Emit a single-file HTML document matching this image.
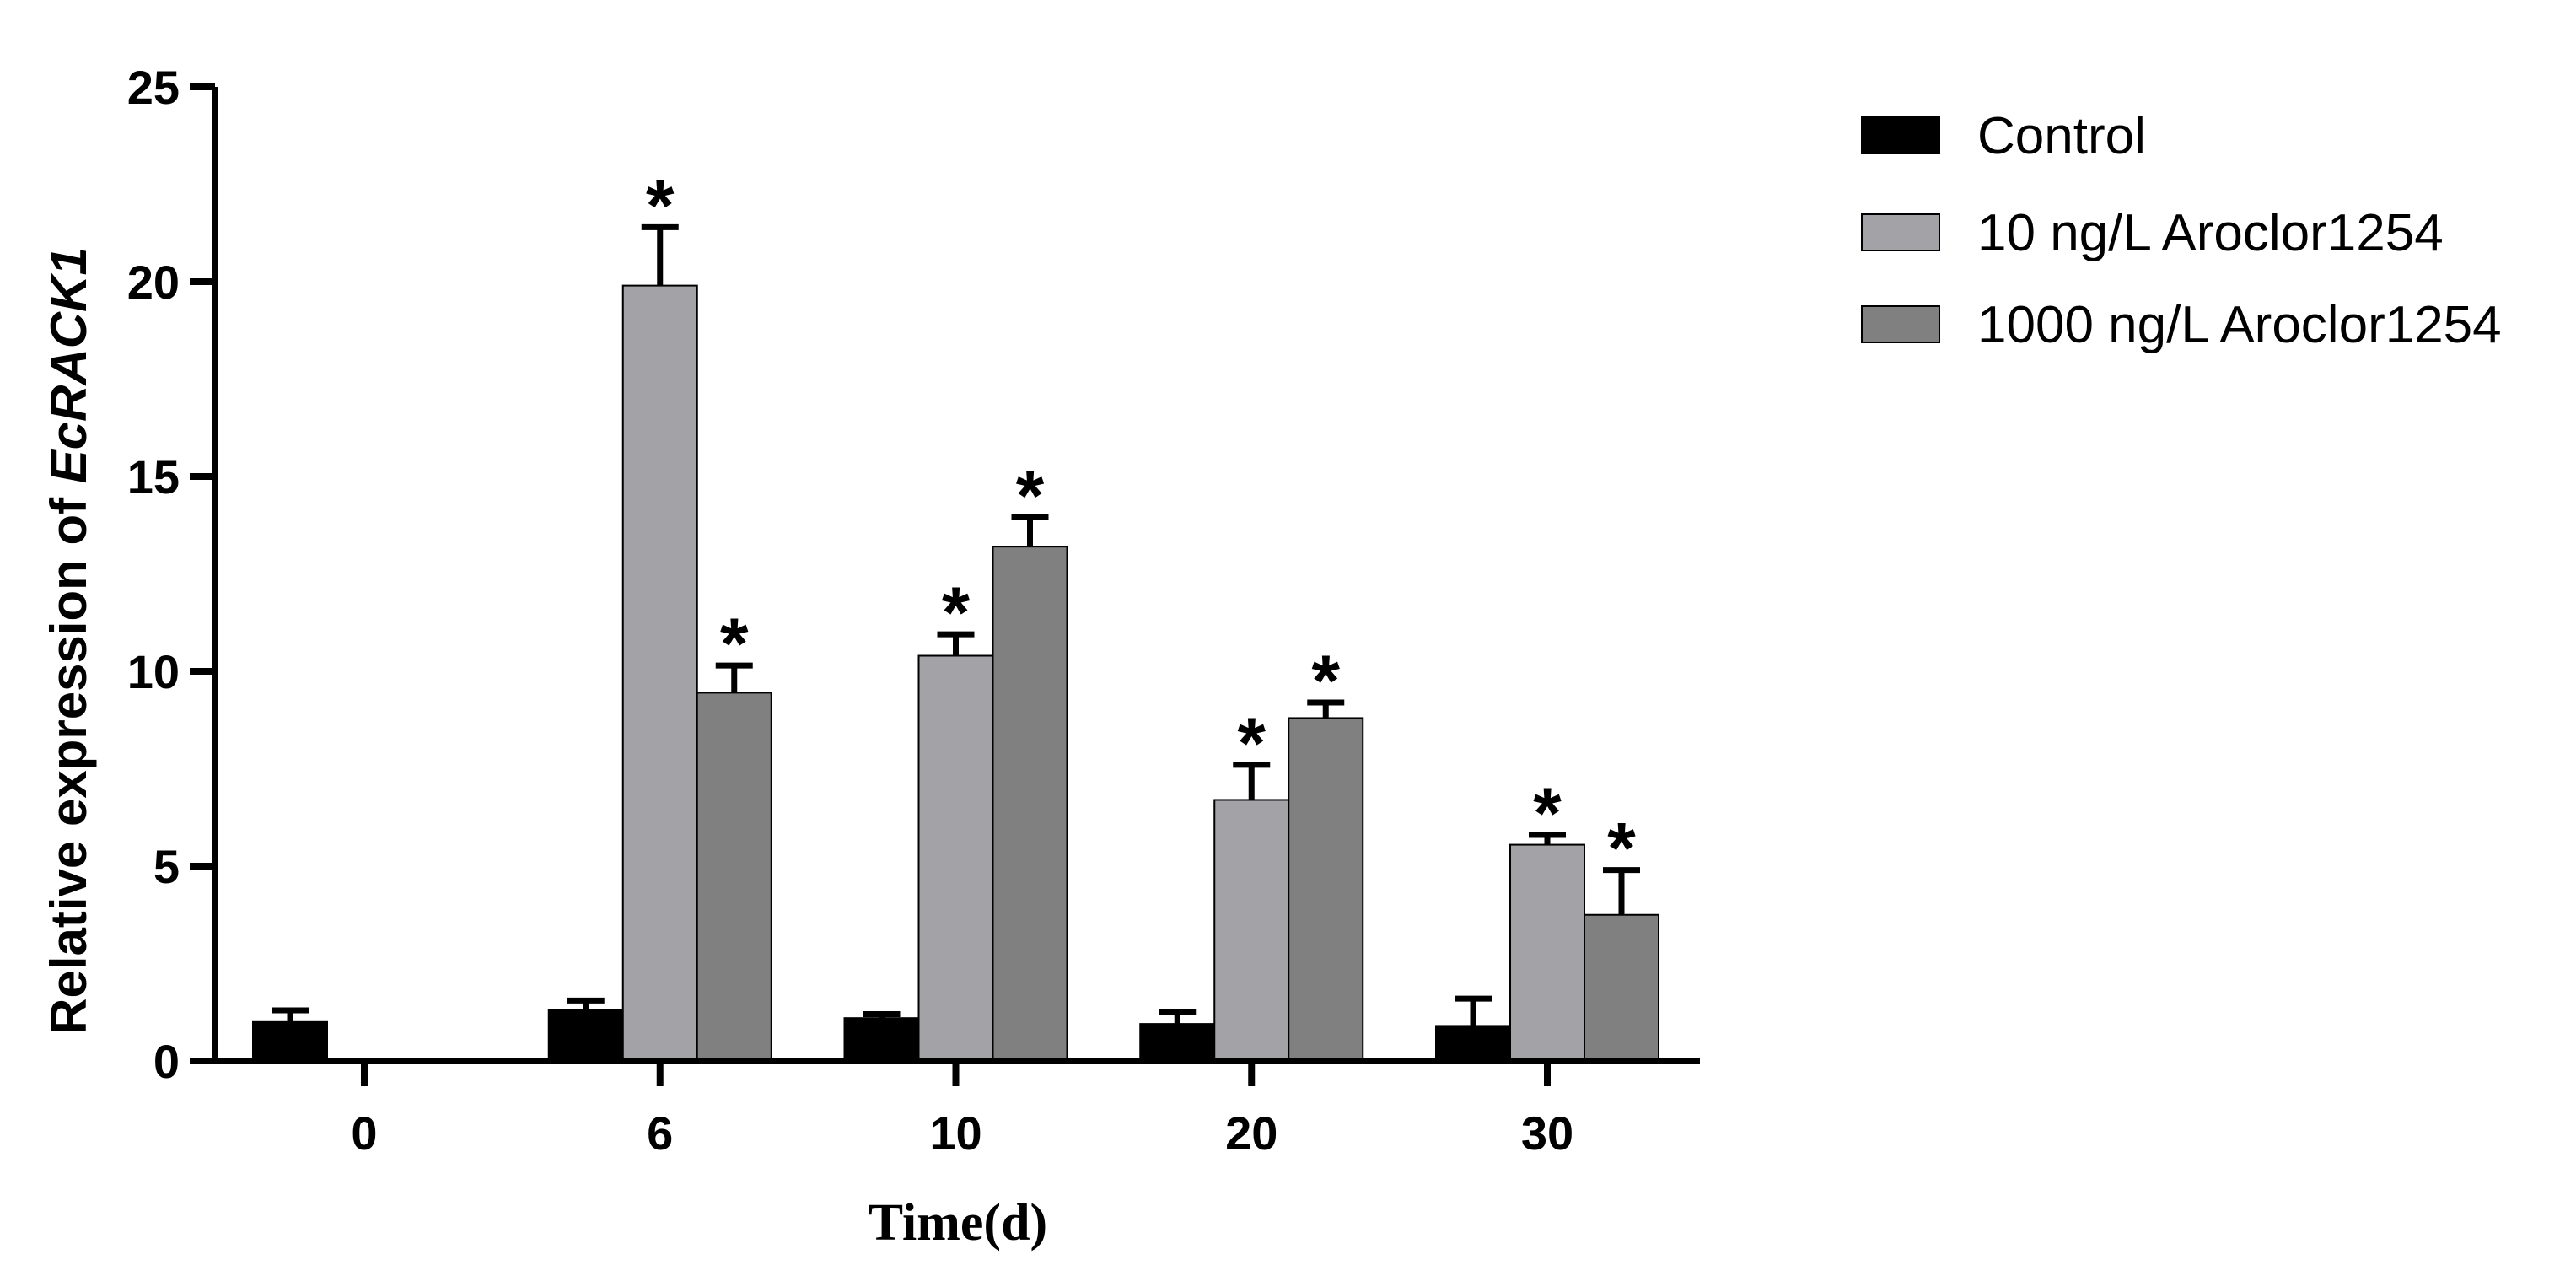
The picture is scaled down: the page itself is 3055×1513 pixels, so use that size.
<!DOCTYPE html>
<html><head><meta charset="utf-8"><style>
html,body{margin:0;padding:0;background:#fff;}
svg{display:block;}
</style></head><body>
<svg id="chart" width="3055" height="1513" xmlns="http://www.w3.org/2000/svg">
<g id="plot"></g>
<text transform="translate(102,760) rotate(-90)" text-anchor="middle" font-family="Liberation Sans, sans-serif" font-weight="bold" font-size="60">Relative expression of <tspan font-style="italic">EcRACK1</tspan></text>
<text x="1136" y="1470" text-anchor="middle" font-family="Liberation Serif, serif" font-weight="bold" font-size="62">Time(d)</text>
<g font-family="Liberation Sans, sans-serif" font-size="62">
<rect x="2208" y="139" width="92" height="43" fill="#000" stroke="#000" stroke-width="2"/>
<text x="2345" y="182">Control</text>
<rect x="2208" y="254" width="92" height="43" fill="#a3a2a7" stroke="#000" stroke-width="2"/>
<text x="2345" y="297">10 ng/L Aroclor1254</text>
<rect x="2208" y="363" width="92" height="43" fill="#808080" stroke="#000" stroke-width="2"/>
<text x="2345" y="406">1000 ng/L Aroclor1254</text>
</g>
</svg>
<script>
const categories = ["0","6","10","20","30"];
const controlVals = [1.0,1.3,1.1,0.95,0.9];
const controlErr = [0.3,0.25,0.1,0.3,0.7];
const low10Vals = [0,19.9,10.4,6.7,5.55];
const low10Err = [0,1.5,0.55,0.9,0.25];
const high1000Vals = [0,9.45,13.2,8.8,3.75];
const high1000Err = [0,0.7,0.75,0.4,1.15];
const starLow = [false,true,true,true,true];
const starHigh = [false,true,true,true,true];
const yTicks = [0,5,10,15,20,25];

const NS="http://www.w3.org/2000/svg";
const g=document.getElementById('plot');
const X0=255, Y0=1258, YTOP=103, XEND=2016, BW=88;
const groupCenters=[432,787,1136,1484,1835];
function y(v){return Y0-(v/25)*(Y0-YTOP);}
function xc(i){return groupCenters[0]+i*((groupCenters[4]-groupCenters[0])/4);}
function mk(tag,attrs){const e=document.createElementNS(NS,tag);for(const k in attrs)e.setAttribute(k,attrs[k]);g.appendChild(e);return e;}

const series=[[controlVals,controlErr,"#000",null],[low10Vals,low10Err,"#a3a2a7",starLow],[high1000Vals,high1000Err,"#808080",starHigh]];
series.forEach((s,si)=>{
  s[0].forEach((v,i)=>{
    if(v<=0)return;
    const left=xc(i)-BW*1.5+si*BW;
    const r=mk('rect',{x:left,y:y(v),width:BW,height:Y0-y(v),fill:s[2],stroke:"#000","stroke-width":2});
    
    
    const cx=left+BW/2, top=y(v+s[1][i]);
    const l=mk('path',{d:`M${cx},${y(v)}V${top}M${cx-22},${top}H${cx+22}`,stroke:"#000","stroke-width":7,fill:"none"});
    
    
    if(s[3]&&s[3][i]){
      const t=mk('text',{x:cx,y:top+4,"text-anchor":"middle","font-family":"Liberation Sans, sans-serif","font-weight":"bold","font-size":"86"});
      t.textContent='*';
      
      
    }
  });
});
const ax=mk('path',{d:`M${X0},${YTOP}V${Y0}H${XEND}`,stroke:"#000","stroke-width":8,fill:"none"});


yTicks.forEach(t=>{
  const tk=mk('line',{x1:X0-30,x2:X0,y1:y(t),y2:y(t),stroke:"#000","stroke-width":8});
  
  
  const lb=mk('text',{x:X0-42,y:y(t)+20,"text-anchor":"end","font-family":"Liberation Sans, sans-serif","font-weight":"bold","font-size":"56"});
  lb.textContent=t;
  
  
});
categories.forEach((c,i)=>{
  const tk=mk('line',{x1:xc(i),x2:xc(i),y1:Y0,y2:Y0+30,stroke:"#000","stroke-width":8});
  
  
  const lb=mk('text',{x:xc(i),y:Y0+105,"text-anchor":"middle","font-family":"Liberation Sans, sans-serif","font-weight":"bold","font-size":"56"});
  lb.textContent=c;
  
  
});
</script>
</body></html>
